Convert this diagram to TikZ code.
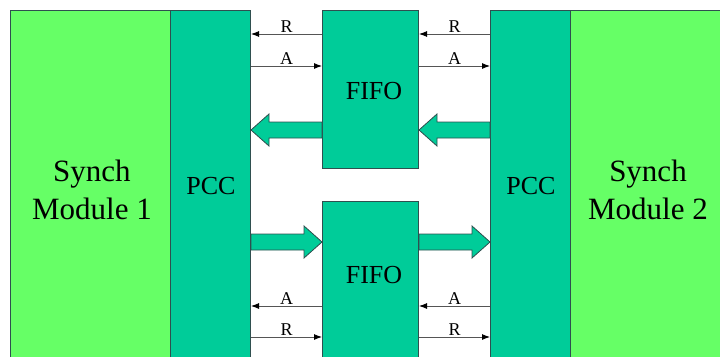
\documentclass[tikz,border=0pt]{standalone}
\usepackage{fontspec}
\setmainfont{Liberation Serif}
\usetikzlibrary{arrows.meta,calc}
\definecolor{modgreen}{HTML}{66FF66}
\definecolor{tealfill}{HTML}{00CC99}
\definecolor{edgecol}{HTML}{2F4F4F}
\definecolor{sigcol}{HTML}{555555}
\begin{document}
\begin{tikzpicture}[x=1pt,y=-1pt,
  block/.style={draw=edgecol, line width=1pt, inner sep=0pt, anchor=north west},
  modbox/.style={block, fill=modgreen, minimum width=160pt, minimum height=380pt},
  pccbox/.style={block, fill=tealfill, minimum width=80pt, minimum height=380pt},
  fifobox/.style={block, fill=tealfill, minimum width=96pt},
  bigtext/.style={align=center, font=\fontsize{31}{38}\selectfont},
  midtext/.style={font=\fontsize{26}{30}\selectfont},
  sig/.style={draw=sigcol, line width=0.9pt, -{Latex[length=8pt,width=6pt,color=black]}},
  siglabel/.style={midway, above, inner sep=1pt, font=\fontsize{18}{20}\selectfont},
  fat/.style={draw=edgecol, line width=0.8pt, fill=tealfill}
]
\useasboundingbox (0,0) rectangle (720,356);
\clip (0,0) rectangle (720,356);

% blocks
\node[modbox] (m1) at (10,10) {};
\node[pccbox] (p1) at (170,10) {};
\node[fifobox, minimum height=158pt] (f1) at (322,10) {};
\node[fifobox, minimum height=170pt] (f2) at (322,201) {};
\node[pccbox] (p2) at (490,10) {};
\node[modbox] (m2) at (570,10) {};

% texts
\node[bigtext] (t1) at (92,190) {Synch\\Module 1};
\node[midtext] (t2) at (211,186) {PCC};
\node[midtext] (t3) at (374,91) {FIFO};
\node[midtext] (t4) at (374,275) {FIFO};
\node[midtext] (t5) at (531,186) {PCC};
\node[bigtext] (t6) at (648,190) {Synch\\Module 2};

% signal levels
\coordinate (yR1) at (0,34);
\coordinate (yA1) at (0,66);
\coordinate (yF1) at (0,130);
\coordinate (yF2) at (0,242);
\coordinate (yA2) at (0,306);
\coordinate (yR2) at (0,337);

% thin handshake lines, top
\draw[sig] (f1.west |- yR1) -- node[siglabel] (lr1) {R} (p1.east |- yR1);
\draw[sig] (p1.east |- yA1) -- node[siglabel] (la1) {A} (f1.west |- yA1);
\draw[sig] (p2.west |- yR1) -- node[siglabel] (lr2) {R} (f1.east |- yR1);
\draw[sig] (f1.east |- yA1) -- node[siglabel] (la2) {A} (p2.west |- yA1);

% thin handshake lines, bottom
\draw[sig] (f2.west |- yA2) -- node[siglabel] (la3) {A} (p1.east |- yA2);
\draw[sig] (p1.east |- yR2) -- node[siglabel] (lr3) {R} (f2.west |- yR2);
\draw[sig] (p2.west |- yA2) -- node[siglabel] (la4) {A} (f2.east |- yA2);
\draw[sig] (f2.east |- yR2) -- node[siglabel] (lr4) {R} (p2.west |- yR2);

% fat data arrows, top (pointing left)
\draw[fat] let \p1=(p1.east |- yF1), \p2=(f1.west |- yF1) in
  (\x2,\y1+8pt) -- (\x1+18pt,\y1+8pt) -- (\x1+18pt,\y1+16pt) -- (\x1,\y1)
  -- (\x1+18pt,\y1-16pt) -- (\x1+18pt,\y1-8pt) -- (\x2,\y1-8pt) -- cycle;
\draw[fat] let \p1=(f1.east |- yF1), \p2=(p2.west |- yF1) in
  (\x2,\y1+8pt) -- (\x1+18pt,\y1+8pt) -- (\x1+18pt,\y1+16pt) -- (\x1,\y1)
  -- (\x1+18pt,\y1-16pt) -- (\x1+18pt,\y1-8pt) -- (\x2,\y1-8pt) -- cycle;

% fat data arrows, bottom (pointing right)
\draw[fat] let \p1=(f2.west |- yF2), \p2=(p1.east |- yF2) in
  (\x2,\y1+8pt) -- (\x1-18pt,\y1+8pt) -- (\x1-18pt,\y1+16pt) -- (\x1,\y1)
  -- (\x1-18pt,\y1-16pt) -- (\x1-18pt,\y1-8pt) -- (\x2,\y1-8pt) -- cycle;
\draw[fat] let \p1=(p2.west |- yF2), \p2=(f2.east |- yF2) in
  (\x2,\y1+8pt) -- (\x1-18pt,\y1+8pt) -- (\x1-18pt,\y1+16pt) -- (\x1,\y1)
  -- (\x1-18pt,\y1-16pt) -- (\x1-18pt,\y1-8pt) -- (\x2,\y1-8pt) -- cycle;
\end{tikzpicture}
\end{document}
